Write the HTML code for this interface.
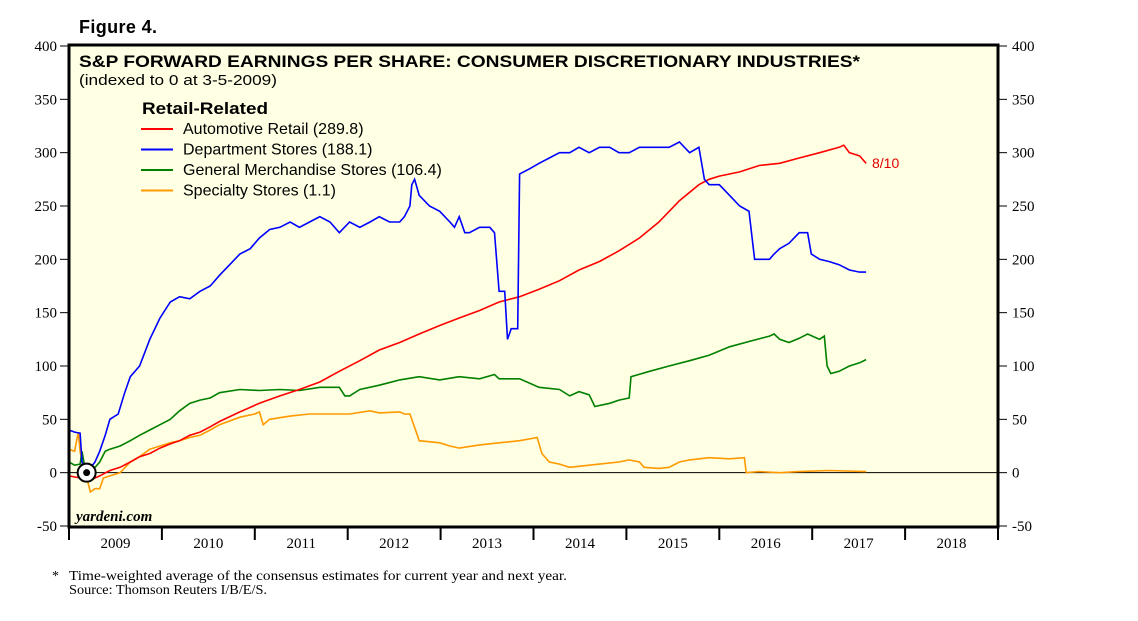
<!DOCTYPE html>
<html><head><meta charset="utf-8"><style>
body{margin:0;background:#fff;}
svg{display:block;font-family:"Liberation Sans",sans-serif;}
</style></head><body>
<svg id="c" width="1138" height="621" viewBox="0 0 1138 621">
<text x="79" y="33" font-size="18" font-weight="bold" textLength="78">Figure 4.</text>
<rect x="69" y="45" width="929" height="482" fill="#ffffe3"/>
<g id="grid"></g>
<g id="series"></g>
<rect x="69" y="45" width="929" height="482" fill="none" stroke="#000" stroke-width="3"/>
<text x="79" y="67" font-size="17" font-weight="bold" textLength="781" lengthAdjust="spacingAndGlyphs">S&amp;P FORWARD EARNINGS PER SHARE: CONSUMER DISCRETIONARY INDUSTRIES*</text>
<text x="79" y="85" font-size="15" textLength="198" lengthAdjust="spacingAndGlyphs">(indexed to 0 at 3-5-2009)</text>
<text x="142" y="114" font-size="17" font-weight="bold" textLength="126" lengthAdjust="spacingAndGlyphs">Retail-Related</text>
<g id="legend"></g>
<text x="872" y="168" font-size="14" fill="#e00000">8/10</text>
<text x="76" y="521" font-size="15" font-style="italic" font-weight="bold" font-family="Liberation Serif,serif">yardeni.com</text>
<g id="axes"></g>
<text x="52" y="580" font-size="14" font-family="Liberation Serif,serif">*</text>
<text x="69" y="580" font-size="14" font-family="Liberation Serif,serif" textLength="498" lengthAdjust="spacingAndGlyphs">Time-weighted average of the consensus estimates for current year and next year.</text>
<text x="69" y="594" font-size="14" font-family="Liberation Serif,serif" textLength="198" lengthAdjust="spacingAndGlyphs">Source: Thomson Reuters I/B/E/S.</text>
</svg>
<script>
const yTicks=[400,350,300,250,200,150,100,50,0,-50];
const years=[2009,2010,2011,2012,2013,2014,2015,2016,2017,2018];
const seriesNames=["Automotive Retail (289.8)","Department Stores (188.1)","General Merchandise Stores (106.4)","Specialty Stores (1.1)"];
const seriesColors=["#ff0000","#0000ff","#008000","#ff9900"];
const autoT=[0,.12,.23,.33,.44,.55,.66,.76,.87,.98,1.09,1.19,1.30,1.41,1.52,1.62,1.84,2.05,2.27,2.48,2.70,2.91,3.13,3.34,3.56,3.77,3.99,4.20,4.42,4.63,4.85,5.06,5.28,5.49,5.71,5.92,6.14,6.35,6.57,6.78,6.89,7.00,7.22,7.43,7.65,7.86,8.08,8.29,8.34,8.40,8.51,8.58];
const autoV=[-3,-5,-7,-3,2,5,10,15,18,23,27,30,35,38,43,48,57,65,72,78,85,95,105,115,122,130,138,145,152,160,165,172,180,190,198,208,220,235,255,270,275,278,282,288,290,295,300,305,307,300,297,290];
const deptT=[0,.06,.12,.14,.19,.28,.33,.39,.44,.53,.60,.66,.76,.87,.98,1.09,1.19,1.30,1.41,1.52,1.62,1.73,1.84,1.95,2.05,2.16,2.27,2.38,2.48,2.59,2.70,2.81,2.91,3.02,3.13,3.24,3.34,3.45,3.56,3.61,3.67,3.69,3.72,3.77,3.88,3.99,4.10,4.15,4.20,4.26,4.31,4.42,4.53,4.58,4.63,4.69,4.72,4.76,4.83,4.85,4.96,5.06,5.17,5.28,5.39,5.49,5.60,5.71,5.82,5.92,6.03,6.14,6.25,6.35,6.46,6.57,6.68,6.78,6.84,6.89,7.00,7.11,7.22,7.32,7.38,7.43,7.54,7.59,7.65,7.75,7.86,7.95,7.99,8.08,8.18,8.29,8.40,8.51,8.58];
const deptV=[40,38,37,10,0,10,20,35,50,55,75,90,100,125,145,160,165,163,170,175,185,195,205,210,220,228,230,235,230,235,240,235,225,235,230,235,240,235,235,240,250,270,275,260,250,245,235,230,240,225,225,230,230,225,170,170,125,135,135,280,285,290,295,300,300,305,300,305,305,300,300,305,305,305,305,310,300,305,275,270,270,260,250,245,200,200,200,205,210,215,225,225,205,200,198,195,190,188,188];
const genT=[0,.06,.12,.14,.17,.23,.33,.39,.44,.55,.66,.76,.87,.98,1.09,1.19,1.30,1.41,1.52,1.62,1.84,2.05,2.27,2.48,2.70,2.91,2.97,3.02,3.13,3.34,3.56,3.77,3.99,4.20,4.42,4.58,4.63,4.85,5.06,5.28,5.39,5.49,5.60,5.66,5.82,5.92,6.03,6.05,6.25,6.46,6.68,6.89,7.11,7.32,7.54,7.59,7.65,7.75,7.86,7.95,8.08,8.13,8.16,8.20,8.29,8.40,8.51,8.58];
const genV=[10,7,8,20,5,0,10,20,22,25,30,35,40,45,50,58,65,68,70,75,78,77,78,77,80,80,72,72,78,82,87,90,87,90,88,92,88,88,80,78,72,76,73,62,65,68,70,90,95,100,105,110,118,123,128,130,125,122,126,130,125,128,100,93,95,100,103,106];
const specT=[0,.06,.10,.12,.15,.19,.23,.28,.33,.37,.44,.55,.66,.76,.87,.98,1.09,1.19,1.30,1.41,1.52,1.62,1.84,2.00,2.05,2.09,2.16,2.38,2.59,2.81,3.02,3.24,3.34,3.56,3.61,3.67,3.75,3.77,3.99,4.10,4.20,4.42,4.63,4.85,5.04,5.09,5.17,5.28,5.39,5.49,5.71,5.92,6.03,6.14,6.19,6.35,6.46,6.57,6.68,6.89,7.11,7.27,7.29,7.43,7.65,7.86,8.18,8.58];
const specV=[22,20,38,20,5,-5,-18,-15,-15,-5,-3,0,10,15,22,25,28,30,33,35,40,45,52,55,57,45,50,53,55,55,55,58,56,57,55,55,35,30,28,25,23,26,28,30,33,18,10,8,5,6,8,10,12,10,5,4,5,10,12,14,13,14,0,1,0,1,2,1];
const allT=[autoT,deptT,genT,specT], allV=[autoV,deptV,genV,specV];
const NS="http://www.w3.org/2000/svg";
const X0=69,X1=998,Y0=46,Y1=526;
const x=t=>X0+(t)*(X1-X0)/10;
const xYear=y=>X0+(y-2009)*(X1-X0)/10;
const yS=v=>Y1-(v+50)*(Y1-Y0)/450;
function mk(tag,attrs,parent){const e=document.createElementNS(NS,tag);for(const k in attrs)e.setAttribute(k,attrs[k]);parent.appendChild(e);return e;}
const axes=document.getElementById('axes'),grid=document.getElementById('grid'),ser=document.getElementById('series'),leg=document.getElementById('legend');
const zl=mk('line',{x1:X0,x2:X1,y1:yS(0),y2:yS(0),stroke:'#000','stroke-width':1},grid);


yTicks.forEach(v=>{
  const l=mk('line',{x1:X0-9,x2:X0,y1:yS(v),y2:yS(v),stroke:'#000','stroke-width':1},axes);
  
  
  const r=mk('line',{x1:X1,x2:X1+9,y1:yS(v),y2:yS(v),stroke:'#000','stroke-width':1},axes);
  
  
  const t=mk('text',{x:X0-12,y:yS(v)+5,'text-anchor':'end','font-size':15,'font-family':'Liberation Serif,serif'},axes);
  t.textContent=v;
  
  
  const t2=mk('text',{x:X1+14,y:yS(v)+5,'font-size':15,'font-family':'Liberation Serif,serif'},axes);
  t2.textContent=v;
  
  
});
years.concat([2019]).forEach(yr=>{
  const l=mk('line',{x1:xYear(yr),x2:xYear(yr),y1:Y1,y2:Y1+14,stroke:'#000','stroke-width':2},axes);
  
  
});
years.forEach(yr=>{
  const t=mk('text',{x:xYear(yr+0.5),y:548,'text-anchor':'middle','font-size':15,'font-family':'Liberation Serif,serif'},axes);
  t.textContent=yr;
  
  
});
const order=[3,2,0,1];
order.forEach(i=>{
  const d=allT[i].map((t,j)=>(j?'L':'M')+x(t).toFixed(1)+','+yS(allV[i][j]).toFixed(1)).join('');
  const p=mk('path',{d:d,fill:'none',stroke:seriesColors[i],'stroke-width':1.6},ser);
  
  
});
const mc=mk('circle',{cx:x(0.19),cy:yS(0),r:9,fill:'#fff',stroke:'#000','stroke-width':2},ser);


const md=mk('circle',{cx:x(0.19),cy:yS(0),r:3.5,fill:'#000'},ser);


const legW=[194,179,277,164];
seriesNames.forEach((n,i)=>{
  const yy=134+i*20.5;
  const l=mk('line',{x1:141,x2:173,y1:yy-5,y2:yy-5,stroke:seriesColors[i],'stroke-width':2},leg);
  
  
  const t=mk('text',{x:183,y:yy,'font-size':16},leg);
  t.textContent=n;
  
  
});
</script>
</body></html>
